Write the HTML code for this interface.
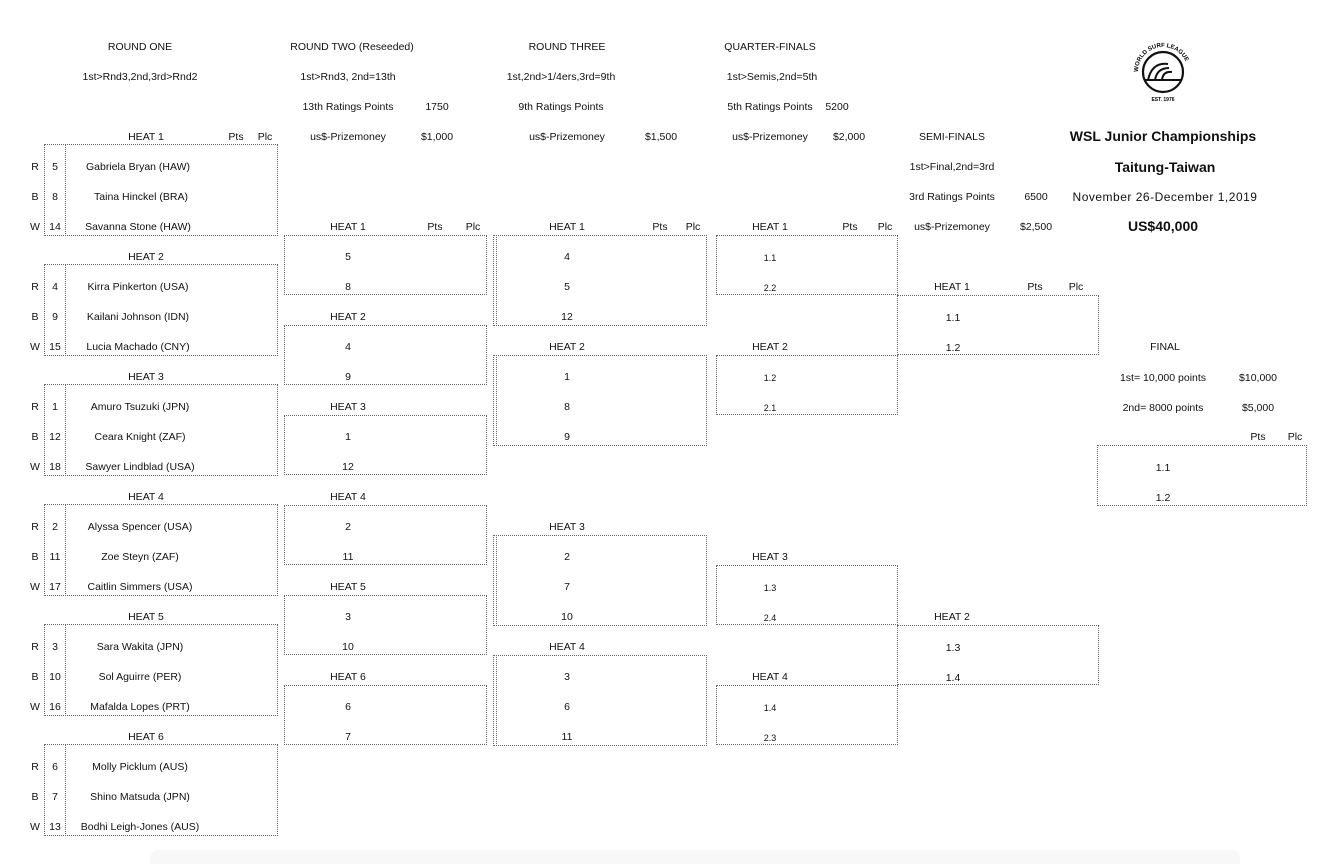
<!DOCTYPE html>
<html><head><meta charset="utf-8"><style>
body{margin:0;width:1322px;height:864px;background:#fff;position:relative;overflow:hidden;font-family:"Liberation Sans",Arial,sans-serif;font-size:10.5px;color:#111}
.t{position:absolute;transform:translate(-50%,-50%);white-space:nowrap}
.s{font-size:9px}
.b{font-weight:bold;font-size:14px}
.bx{position:absolute;border:1px dotted #666;box-sizing:border-box}
.v{position:absolute;border-left:1px dotted #666;width:0}
</style></head><body>
<div class="t" style="left:140px;top:47px">ROUND ONE</div>
<div class="t" style="left:352px;top:47px">ROUND TWO (Reseeded)</div>
<div class="t" style="left:567px;top:47px">ROUND THREE</div>
<div class="t" style="left:770px;top:47px">QUARTER-FINALS</div>
<div class="t" style="left:140px;top:77px">1st&gt;Rnd3,2nd,3rd&gt;Rnd2</div>
<div class="t" style="left:348px;top:77px">1st&gt;Rnd3, 2nd=13th</div>
<div class="t" style="left:561px;top:77px">1st,2nd&gt;1/4ers,3rd=9th</div>
<div class="t" style="left:772px;top:77px">1st&gt;Semis,2nd=5th</div>
<div class="t" style="left:348px;top:107px">13th Ratings Points</div>
<div class="t" style="left:437px;top:107px">1750</div>
<div class="t" style="left:561px;top:107px">9th Ratings Points</div>
<div class="t" style="left:770px;top:107px">5th Ratings Points</div>
<div class="t" style="left:837px;top:107px">5200</div>
<div class="t" style="left:236px;top:137px">Pts</div>
<div class="t" style="left:265px;top:137px">Plc</div>
<div class="t" style="left:348px;top:137px">us$-Prizemoney</div>
<div class="t" style="left:437px;top:137px">$1,000</div>
<div class="t" style="left:567px;top:137px">us$-Prizemoney</div>
<div class="t" style="left:661px;top:137px">$1,500</div>
<div class="t" style="left:770px;top:137px">us$-Prizemoney</div>
<div class="t" style="left:849px;top:137px">$2,000</div>
<div class="t" style="left:952px;top:137px">SEMI-FINALS</div>
<div class="t" style="left:952px;top:167px">1st&gt;Final,2nd=3rd</div>
<div class="t" style="left:952px;top:197px">3rd Ratings Points</div>
<div class="t" style="left:1036px;top:197px">6500</div>
<div class="t" style="left:952px;top:227px">us$-Prizemoney</div>
<div class="t" style="left:1036px;top:227px">$2,500</div>
<div class="t b" style="left:1163px;top:136px">WSL Junior Championships</div>
<div class="t b" style="left:1165px;top:167px">Taitung-Taiwan</div>
<div class="t" style="left:1165px;top:197px;font-size:12px;letter-spacing:0.5px">November 26-December 1,2019</div>
<div class="t b" style="left:1163px;top:226px">US$40,000</div>
<svg style="position:absolute;left:1128px;top:38px" width="70" height="66" viewBox="0 0 70 66">
<defs><path id="arc" d="M10 34 A25 25 0 0 1 60 34"/></defs>
<text font-size="6" font-family="Liberation Sans" font-weight="bold"><textPath href="#arc">WORLD SURF LEAGUE</textPath></text>
<circle cx="35" cy="34" r="20" fill="none" stroke="#111" stroke-width="2.2"/>
<path d="M20 42 Q24 24 40 26 M27 42 Q29 30 41 30 M34 42 Q35 33 44 34 M16 42 H54" fill="none" stroke="#111" stroke-width="2"/>
<text x="35" y="63" font-size="5" text-anchor="middle" font-family="Liberation Sans" font-weight="bold">EST. 1976</text>
</svg>

<div class="bx" style="left:44px;top:144px;width:234px;height:92px"></div><div class="v" style="left:65px;top:144px;height:92px"></div>
<div class="bx" style="left:44px;top:264px;width:234px;height:92px"></div><div class="v" style="left:65px;top:264px;height:92px"></div>
<div class="bx" style="left:44px;top:384px;width:234px;height:92px"></div><div class="v" style="left:65px;top:384px;height:92px"></div>
<div class="bx" style="left:44px;top:504px;width:234px;height:92px"></div><div class="v" style="left:65px;top:504px;height:92px"></div>
<div class="bx" style="left:44px;top:624px;width:234px;height:92px"></div><div class="v" style="left:65px;top:624px;height:92px"></div>
<div class="bx" style="left:44px;top:744px;width:234px;height:92px"></div><div class="v" style="left:65px;top:744px;height:92px"></div>

<div class="t" style="left:146px;top:137px">HEAT 1</div>
<div class="t" style="left:35px;top:167px">R</div><div class="t" style="left:55px;top:167px">5</div><div class="t" style="left:138px;top:167px">Gabriela Bryan (HAW)</div>
<div class="t" style="left:35px;top:197px">B</div><div class="t" style="left:55px;top:197px">8</div><div class="t" style="left:141px;top:197px">Taina Hinckel (BRA)</div>
<div class="t" style="left:35px;top:227px">W</div><div class="t" style="left:55px;top:227px">14</div><div class="t" style="left:138px;top:227px">Savanna Stone (HAW)</div>
<div class="t" style="left:146px;top:257px">HEAT 2</div>
<div class="t" style="left:35px;top:287px">R</div><div class="t" style="left:55px;top:287px">4</div><div class="t" style="left:138px;top:287px">Kirra Pinkerton (USA)</div>
<div class="t" style="left:35px;top:317px">B</div><div class="t" style="left:55px;top:317px">9</div><div class="t" style="left:138px;top:317px">Kailani Johnson (IDN)</div>
<div class="t" style="left:35px;top:347px">W</div><div class="t" style="left:55px;top:347px">15</div><div class="t" style="left:138px;top:347px">Lucia Machado (CNY)</div>
<div class="t" style="left:146px;top:377px">HEAT 3</div>
<div class="t" style="left:35px;top:407px">R</div><div class="t" style="left:55px;top:407px">1</div><div class="t" style="left:140px;top:407px">Amuro Tsuzuki (JPN)</div>
<div class="t" style="left:35px;top:437px">B</div><div class="t" style="left:55px;top:437px">12</div><div class="t" style="left:140px;top:437px">Ceara Knight (ZAF)</div>
<div class="t" style="left:35px;top:467px">W</div><div class="t" style="left:55px;top:467px">18</div><div class="t" style="left:140px;top:467px">Sawyer Lindblad (USA)</div>
<div class="t" style="left:146px;top:497px">HEAT 4</div>
<div class="t" style="left:35px;top:527px">R</div><div class="t" style="left:55px;top:527px">2</div><div class="t" style="left:140px;top:527px">Alyssa Spencer (USA)</div>
<div class="t" style="left:35px;top:557px">B</div><div class="t" style="left:55px;top:557px">11</div><div class="t" style="left:140px;top:557px">Zoe Steyn (ZAF)</div>
<div class="t" style="left:35px;top:587px">W</div><div class="t" style="left:55px;top:587px">17</div><div class="t" style="left:140px;top:587px">Caitlin Simmers (USA)</div>
<div class="t" style="left:146px;top:617px">HEAT 5</div>
<div class="t" style="left:35px;top:647px">R</div><div class="t" style="left:55px;top:647px">3</div><div class="t" style="left:140px;top:647px">Sara Wakita (JPN)</div>
<div class="t" style="left:35px;top:677px">B</div><div class="t" style="left:55px;top:677px">10</div><div class="t" style="left:140px;top:677px">Sol Aguirre (PER)</div>
<div class="t" style="left:35px;top:707px">W</div><div class="t" style="left:55px;top:707px">16</div><div class="t" style="left:140px;top:707px">Mafalda Lopes (PRT)</div>
<div class="t" style="left:146px;top:737px">HEAT 6</div>
<div class="t" style="left:35px;top:767px">R</div><div class="t" style="left:55px;top:767px">6</div><div class="t" style="left:140px;top:767px">Molly Picklum (AUS)</div>
<div class="t" style="left:35px;top:797px">B</div><div class="t" style="left:55px;top:797px">7</div><div class="t" style="left:140px;top:797px">Shino Matsuda (JPN)</div>
<div class="t" style="left:35px;top:827px">W</div><div class="t" style="left:55px;top:827px">13</div><div class="t" style="left:140px;top:827px">Bodhi Leigh-Jones (AUS)</div>

<div class="t" style="left:348px;top:227px">HEAT 1</div><div class="t" style="left:435px;top:227px">Pts</div><div class="t" style="left:473px;top:227px">Plc</div>
<div class="bx" style="left:284px;top:235px;width:203px;height:60px"></div>
<div class="t" style="left:348px;top:257px">5</div><div class="t" style="left:348px;top:287px">8</div>
<div class="t" style="left:348px;top:317px">HEAT 2</div>
<div class="bx" style="left:284px;top:325px;width:203px;height:60px"></div>
<div class="t" style="left:348px;top:347px">4</div><div class="t" style="left:348px;top:377px">9</div>
<div class="t" style="left:348px;top:407px">HEAT 3</div>
<div class="bx" style="left:284px;top:415px;width:203px;height:60px"></div>
<div class="t" style="left:348px;top:437px">1</div><div class="t" style="left:348px;top:467px">12</div>
<div class="t" style="left:348px;top:497px">HEAT 4</div>
<div class="bx" style="left:284px;top:505px;width:203px;height:60px"></div>
<div class="t" style="left:348px;top:527px">2</div><div class="t" style="left:348px;top:557px">11</div>
<div class="t" style="left:348px;top:587px">HEAT 5</div>
<div class="bx" style="left:284px;top:595px;width:203px;height:60px"></div>
<div class="t" style="left:348px;top:617px">3</div><div class="t" style="left:348px;top:647px">10</div>
<div class="t" style="left:348px;top:677px">HEAT 6</div>
<div class="bx" style="left:284px;top:685px;width:203px;height:60px"></div>
<div class="t" style="left:348px;top:707px">6</div><div class="t" style="left:348px;top:737px">7</div>

<div class="t" style="left:567px;top:227px">HEAT 1</div><div class="t" style="left:660px;top:227px">Pts</div><div class="t" style="left:693px;top:227px">Plc</div>
<div class="bx" style="left:493px;top:235px;width:214px;height:91px"></div><div class="v" style="left:496px;top:235px;height:91px"></div>
<div class="t" style="left:567px;top:257px">4</div><div class="t" style="left:567px;top:287px">5</div><div class="t" style="left:567px;top:317px">12</div>
<div class="t" style="left:567px;top:347px">HEAT 2</div>
<div class="bx" style="left:493px;top:355px;width:214px;height:91px"></div><div class="v" style="left:496px;top:355px;height:91px"></div>
<div class="t" style="left:567px;top:377px">1</div><div class="t" style="left:567px;top:407px">8</div><div class="t" style="left:567px;top:437px">9</div>
<div class="t" style="left:567px;top:527px">HEAT 3</div>
<div class="bx" style="left:493px;top:535px;width:214px;height:91px"></div><div class="v" style="left:496px;top:535px;height:91px"></div>
<div class="t" style="left:567px;top:557px">2</div><div class="t" style="left:567px;top:587px">7</div><div class="t" style="left:567px;top:617px">10</div>
<div class="t" style="left:567px;top:647px">HEAT 4</div>
<div class="bx" style="left:493px;top:655px;width:214px;height:91px"></div><div class="v" style="left:496px;top:655px;height:91px"></div>
<div class="t" style="left:567px;top:677px">3</div><div class="t" style="left:567px;top:707px">6</div><div class="t" style="left:567px;top:737px">11</div>

<div class="t" style="left:770px;top:227px">HEAT 1</div><div class="t" style="left:850px;top:227px">Pts</div><div class="t" style="left:885px;top:227px">Plc</div>
<div class="bx" style="left:716px;top:235px;width:182px;height:60px"></div>
<div class="t s" style="left:770px;top:258px">1.1</div><div class="t s" style="left:770px;top:288px">2.2</div>
<div class="t" style="left:770px;top:347px">HEAT 2</div>
<div class="bx" style="left:716px;top:355px;width:182px;height:60px"></div>
<div class="t s" style="left:770px;top:378px">1.2</div><div class="t s" style="left:770px;top:408px">2.1</div>
<div class="t" style="left:770px;top:557px">HEAT 3</div>
<div class="bx" style="left:716px;top:565px;width:182px;height:60px"></div>
<div class="t s" style="left:770px;top:588px">1.3</div><div class="t s" style="left:770px;top:618px">2.4</div>
<div class="t" style="left:770px;top:677px">HEAT 4</div>
<div class="bx" style="left:716px;top:685px;width:182px;height:60px"></div>
<div class="t s" style="left:770px;top:708px">1.4</div><div class="t s" style="left:770px;top:738px">2.3</div>

<div class="t" style="left:952px;top:287px">HEAT 1</div><div class="t" style="left:1035px;top:287px">Pts</div><div class="t" style="left:1076px;top:287px">Plc</div>
<div class="bx" style="left:897px;top:295px;width:202px;height:60px"></div>
<div class="t" style="left:953px;top:318px">1.1</div><div class="t" style="left:953px;top:348px">1.2</div>
<div class="t" style="left:952px;top:617px">HEAT 2</div>
<div class="bx" style="left:897px;top:625px;width:202px;height:60px"></div>
<div class="t" style="left:953px;top:648px">1.3</div><div class="t" style="left:953px;top:678px">1.4</div>

<div class="t" style="left:1165px;top:347px">FINAL</div>
<div class="t" style="left:1163px;top:378px">1st= 10,000 points</div><div class="t" style="left:1258px;top:378px">$10,000</div>
<div class="t" style="left:1163px;top:408px">2nd= 8000 points</div><div class="t" style="left:1258px;top:408px">$5,000</div>
<div class="t" style="left:1258px;top:437px">Pts</div><div class="t" style="left:1295px;top:437px">Plc</div>
<div class="bx" style="left:1097px;top:445px;width:210px;height:61px"></div>
<div class="t" style="left:1163px;top:468px">1.1</div><div class="t" style="left:1163px;top:498px">1.2</div>

<div style="position:absolute;left:150px;top:850px;width:1090px;height:14px;background:#f8f8f8;border-radius:8px 8px 0 0"></div>
</body></html>
